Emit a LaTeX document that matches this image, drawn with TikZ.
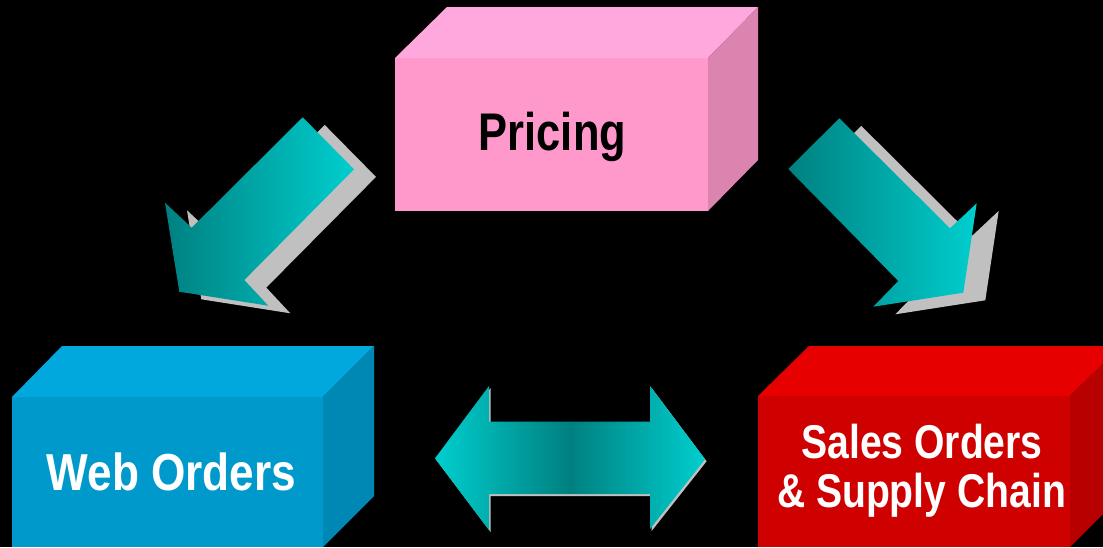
\documentclass[tikz,border=0pt]{standalone}
\usepackage{fontspec}
\setmainfont{Liberation Sans}
\usepackage{graphicx}
\definecolor{pkfront}{RGB}{255,153,204}
\definecolor{pktop}{RGB}{255,168,222}
\definecolor{pkside}{RGB}{220,132,176}
\definecolor{blfront}{RGB}{0,153,204}
\definecolor{bltop}{RGB}{0,168,222}
\definecolor{blside}{RGB}{0,136,180}
\definecolor{rdfront}{RGB}{207,0,0}
\definecolor{rdtop}{RGB}{230,0,0}
\definecolor{rdside}{RGB}{184,0,0}
\definecolor{tealdark}{RGB}{0,128,128}
\definecolor{tealbright}{RGB}{0,206,206}
\definecolor{shadowgray}{RGB}{192,192,192}
\tikzset{
  shadowshape/.style={fill=shadowgray, draw=none},
  diagarrow/.style={left color=tealdark, right color=tealbright, draw=none},
  bothwayarrow/.style={left color=tealbright, right color=tealbright, middle color=tealdark, draw=none},
  boxlabel/.style={anchor=base, inner sep=0pt, font=\bfseries},
}
\begin{document}
\begin{tikzpicture}[x=1pt,y=-1pt]
\useasboundingbox (0,0) rectangle (1103,547);
\fill[black] (0,0) rectangle (1103,547);
\clip (0,0) rectangle (1103,547);

% Pricing box
\fill[pkfront] (395,58) rectangle (708,211);
\fill[pktop] (395,58) -- (447,7) -- (758,7) -- (708,58) -- cycle;
\fill[pkside] (708,58) -- (758,7) -- (758,160) -- (708,211) -- cycle;
\node[boxlabel, text=black] (pricing) at (552.5,150) {\fontsize{53}{60}\selectfont\scalebox{0.82}[1]{Pricing}};

% Web Orders box
\fill[blfront] (12,397) rectangle (323,547);
\fill[bltop] (12,397) -- (62,346) -- (374,346) -- (323,397) -- cycle;
\fill[blside] (323,397) -- (374,346) -- (374,496) -- (323,547) -- cycle;
\node[boxlabel, text=white] (web) at (171.5,490) {\fontsize{52}{60}\selectfont\scalebox{0.85}[1]{Web Orders}};

% Sales box
\fill[rdfront] (758,396) rectangle (1070,547);
\fill[rdtop] (758,396) -- (809,346) -- (1121,346) -- (1070,396) -- cycle;
\fill[rdside] (1070,396) -- (1121,346) -- (1121,496) -- (1070,547) -- cycle;
\node[boxlabel, text=white] (sales1) at (922,458) {\fontsize{47.4}{49}\selectfont\scalebox{0.825}[1]{Sales Orders}};
\node[boxlabel, text=white] (sales2) at (921.5,507) {\fontsize{47.4}{49}\selectfont\scalebox{0.825}[1]{\& Supply Chain}};

% Left diagonal arrow (Pricing -> Web Orders)
\begin{scope}[shift={(22,7.6)}]
\fill[shadowshape] (302.7,117.3) -- (354,169.3) -- (244.3,280) -- (268.3,305.7) -- (179.3,291.7) -- (165,202.7) -- (191.7,227.7) -- cycle;
\end{scope}
\shade[diagarrow] (302.7,117.3) -- (354,169.3) -- (244.3,280) -- (268.3,305.7) -- (179.3,291.7) -- (165,202.7) -- (191.7,227.7) -- cycle;

% Right diagonal arrow (Pricing -> Sales)
\begin{scope}[shift={(22,7.6)}]
\fill[shadowshape] (839.3,118.3) -- (788.3,169) -- (898.3,281) -- (873.3,306.7) -- (963.3,292.7) -- (976.7,203.3) -- (950,228.3) -- cycle;
\end{scope}
\shade[diagarrow] (839.3,118.3) -- (788.3,169) -- (898.3,281) -- (873.3,306.7) -- (963.3,292.7) -- (976.7,203.3) -- (950,228.3) -- cycle;

% Double arrow (Web Orders <-> Sales)
\begin{scope}[shift={(1.6,2)}]
\fill[shadowshape] (435,458.3) -- (489,386) -- (489,421.7) -- (650,421.7) -- (650,386) -- (705,459.3) -- (650,529) -- (650,494) -- (489,494) -- (489,530) -- cycle;
\end{scope}
\shade[bothwayarrow] (435,458.3) -- (489,386) -- (489,421.7) -- (650,421.7) -- (650,386) -- (705,459.3) -- (650,529) -- (650,494) -- (489,494) -- (489,530) -- cycle;
\end{tikzpicture}
\end{document}
